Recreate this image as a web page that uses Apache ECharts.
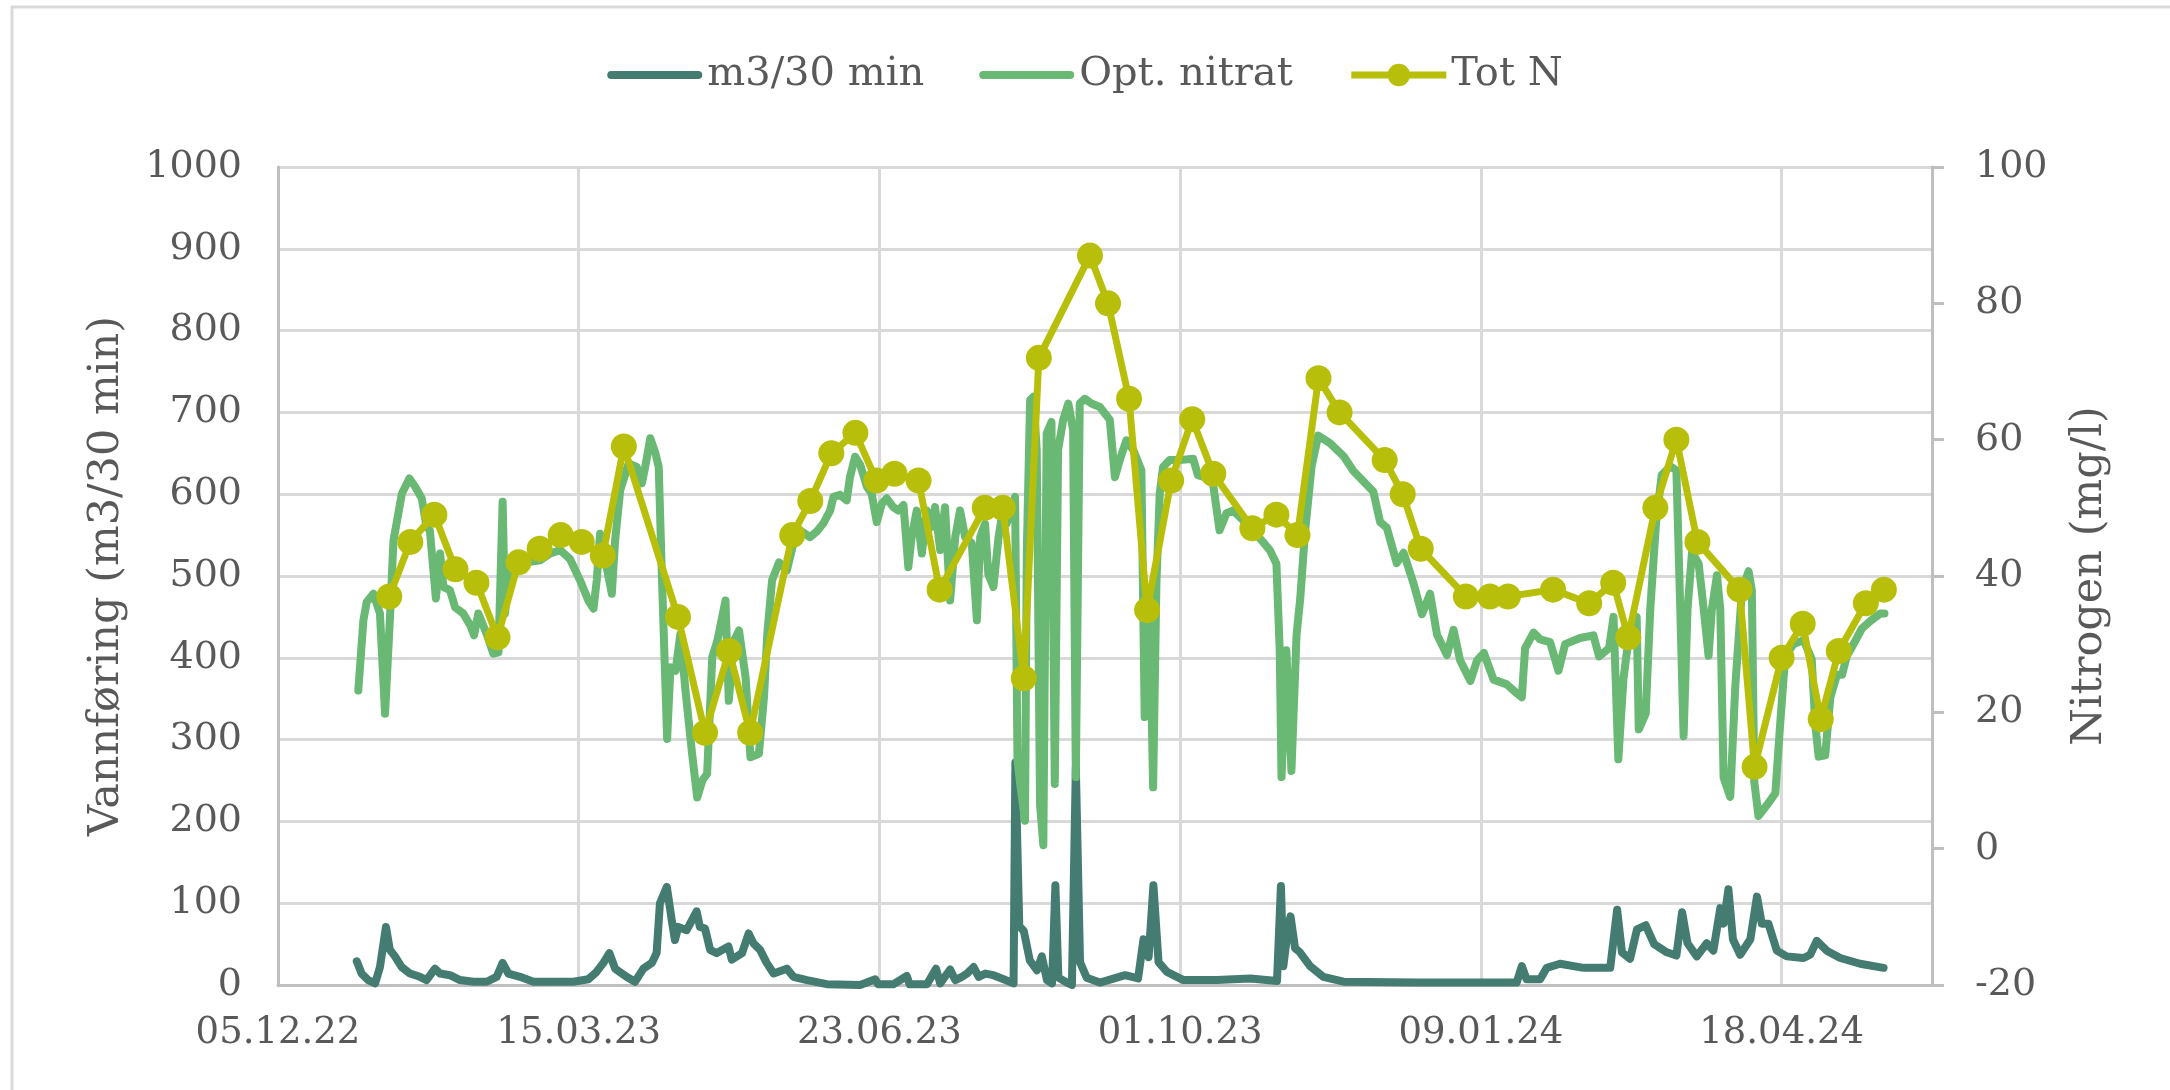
<!DOCTYPE html>
<html>
<head>
<meta charset="utf-8">
<title>Vannføring og nitrogen</title>
<script src="https://cdn.jsdelivr.net/npm/echarts@6/dist/echarts.min.js"></script>
<style>
  html, body { margin: 0; padding: 0; background: #fff; }
  #chart { width: 2170px; height: 1090px; }
</style>
</head>
<body>
<div id="chart"></div>
<script>
// x values are days counted from the axis start 05.12.22
const startDate = Date.UTC(2022, 11, 5)
const dayMs = 86400000

// m3/30 min (left axis)
const flowDay = [
  26.2, 27.8, 30, 32.3, 33.9, 35.9, 37.2, 38.9, 41.1, 43.9,
  47.2, 49.4, 52.2, 53.9, 57.2, 60.5, 65, 69.4, 72.7, 74.7,
  76.6, 80.5, 84.9, 92.7, 98.2, 103.2, 105.9, 108.2, 110.2, 112.1,
  115.9, 118.7, 121.5, 124.3, 125.9, 127, 129.3, 130.9, 132, 133.1,
  135.9, 139.2, 140.3, 142, 143.7, 145.9, 149.8, 150.9, 154.3, 156.5,
  158.1, 160.3, 162.5, 164.8, 169.2, 171.4, 175.9, 182.5, 193.6, 198.6,
  199.5, 204.7, 209.1, 210, 215.8, 218.8, 220.2, 223.5, 225.2, 227.4,
  229.1, 231.3, 233, 235.2, 237.9, 241.3, 244.6, 245.2, 246.5, 248,
  250, 252.4, 254, 255.7, 257.4, 258.5, 259.5, 262.3, 264, 265.3,
  266.7, 268.9, 273.3, 281.7, 286, 287.8, 289.5, 291.1, 292.8, 295.6,
  301.1, 312.2, 323.3, 332.2, 333.5, 334.3, 336, 336.7, 338.2, 339.8,
  343.2, 347.6, 354.3, 378.6, 411.9, 413.6, 415.2, 419.7, 421.9, 426.3,
  434.1, 443, 445.3, 446.9, 449.6, 451.9, 454.8, 457.6, 461.8, 465,
  466.9, 468.7, 471.8, 475.1, 477.3, 479.6, 480.7, 482.3, 483.8, 486.2,
  489.6, 491.8, 493.4, 495.6, 498.4, 501.7, 507.3, 509.5, 511.7, 515,
  519.5, 526.1, 533.9
]
const flowValue = [
  29, 14, 6, 2, 22, 71, 43, 35, 22, 14,
  10, 6, 20, 14, 12, 6, 4, 4, 10, 27,
  14, 10, 4, 4, 4, 7, 16, 27, 39, 20,
  10, 4, 20, 27, 39, 100, 120, 80, 55, 71,
  67, 90, 71, 69, 43, 39, 47, 31, 39, 63,
  51, 43, 27, 14, 20, 10, 6, 1, 0, 7,
  1, 1, 11, 1, 1, 20, 2, 19, 6, 10,
  14, 22, 10, 14, 12, 7, 2, 272, 72, 66,
  30, 18, 35, 6, 2, 122, 9, 3, 0, 266,
  28, 9, 3, 12, 8, 56, 34, 122, 28, 16,
  6, 6, 8, 5, 121, 23, 73, 84, 45, 40,
  23, 10, 4, 3, 3, 23, 7, 7, 21, 26,
  21, 21, 92, 40, 32, 68, 73, 50, 40, 36,
  89, 51, 35, 51, 42, 94, 75, 117, 56, 37,
  56, 108, 75, 75, 42, 35, 33, 37, 54, 42,
  33, 26, 21
]

// Opt. nitrat (right axis, mg/l)
const nitratDay = [
  26.7, 28.4, 29.5, 31.7, 33.9, 35.6, 37.3, 38.4, 41.2, 43.7,
  45.6, 47.8, 49.4, 50.5, 52.5, 53.9, 55, 57.2, 58.9, 61.6,
  63.9, 65.2, 66.6, 69.4, 71.6, 73.3, 74.7, 75.5, 76.6, 78.8,
  81, 83.8, 87.1, 90.5, 93.8, 97.1, 100.4, 103.2, 104.9, 106,
  107.1, 109.3, 111, 112.1, 113.8, 116.6, 119.3, 121, 122.1, 123.8,
  125.5, 126.6, 127.7, 129.4, 130.5, 132.2, 133.8, 135.5, 137.7, 139.4,
  141.1, 142.7, 144.4, 146.1, 148.8, 149.9, 151.6, 153.3, 155.5, 157.1,
  159.9, 161.6, 162.7, 164.3, 166.6, 169.2, 171.4, 173.6, 176.9, 179.1,
  181.3, 183.6, 184.7, 186.9, 189.1, 190.2, 191.9, 193.6, 195.8, 197.4,
  199.1, 200.8, 202.4, 204.6, 206.3, 208, 209.6, 210.7, 212.4, 214.1,
  215.7, 217.4, 218.5, 220.2, 221.8, 223.5, 225.2, 226.8, 228.5, 230.7,
  232.4, 233.5, 235.1, 236.2, 237.9, 239.6, 240.7, 242.3, 244, 245.1,
  245.9, 246.8, 248.4, 249, 250.1, 251.2, 252.3, 253.4, 254.5, 255.6,
  257.2, 258.3, 259.4, 261.1, 262.8, 264.4, 265.3, 266.6, 268.3, 270.5,
  273.3, 276.6, 278.3, 279.9, 282.1, 284.4, 287.1, 288.2, 289.9, 291,
  292.1, 293.2, 294.3, 296.5, 299.8, 304.3, 305.9, 308.1, 310.9, 313.1,
  315.4, 317.6, 320.9, 324.2, 327.5, 329.8, 332, 333.1, 333.7, 335.3,
  337, 338.7, 339.9, 341.5, 343.7, 345.9, 349.8, 354.3, 357.6, 360.9,
  364.2, 366.5, 368.7, 372, 374.3, 377.6, 380.4, 383.1, 385.4, 388.7,
  390.9, 393.1, 396.5, 398.7, 401, 404.2, 408.6, 411.9, 413.6, 414.7,
  417.5, 419.7, 423, 425.8, 428, 433, 437.4, 439.3, 442.6, 444.1,
  445.7, 447.4, 449.6, 451.8, 452.5, 454.8, 456.3, 458.2, 460.1, 463,
  465, 466.3, 467.4, 468.7, 470.2, 472.4, 474.1, 475.7, 476.8, 478.5,
  479.6, 480.7, 482.9, 484.6, 486.8, 489, 490.1, 490.9, 492.3, 495.1,
  497.9, 499.5, 501.2, 504, 507.3, 510, 511.2, 512.3, 514.5, 516.2,
  518.4, 520.1, 521.7, 523.9, 526.7, 529.5, 532.8, 534.2
]
const nitratValue = [
  23.2, 33.5, 36.2, 37.4, 34.5, 19.8, 34.5, 45.2, 52.1, 54.3,
  53.1, 51.4, 47.2, 46.7, 36.7, 43.3, 38.4, 37.9, 35.4, 34.5,
  32.8, 31.3, 34.5, 31.5, 28.6, 28.8, 50.9, 34.5, 40.4, 42.3,
  41.6, 42.1, 42.3, 43.3, 43.8, 42.5, 39.4, 36.4, 35.2, 39.4,
  46.2, 41.3, 37.4, 45.2, 52.6, 56.5, 56, 53.6, 56, 60.2,
  58, 56, 39.4, 16.1, 26.6, 26.1, 31.5, 23.2, 13.9, 7.5,
  10, 11, 28.1, 30.5, 36.4, 21.7, 30.5, 32, 25.1, 13.4,
  13.9, 22.2, 31.5, 39.4, 42, 40.8, 44.8, 46.7, 45.7, 46.5,
  47.7, 49.6, 51.6, 51.9, 51.1, 54.5, 57.5, 56.3, 53.1, 52.1,
  47.9, 50.6, 51.4, 50.1, 49.6, 50.4, 41.3, 45.7, 49.6, 43.3,
  49.6, 47.2, 50.1, 43.8, 50.1, 36.4, 45.7, 49.6, 45.7, 44.8,
  33.5, 45.7, 47.7, 40.3, 38.4, 45.7, 48.7, 47.7, 50.1, 51.6,
  12.9, 9.5, 4.1, 43.8, 65.8, 66.3, 58.5, 6.5, 0.5, 60.9,
  62.6, 9.5, 58.5, 62.9, 65.3, 61.4, 10.5, 65.3, 66, 65.3,
  64.8, 62.9, 54.5, 57, 59.9, 58.5, 55.5, 19.3, 34, 9,
  38.9, 52.1, 56, 57, 57, 57.2, 54.8, 54.5, 53.6, 46.7,
  49.2, 49.6, 48.2, 46.7, 45, 43.8, 41.8, 29.1, 10.5, 29.1,
  11.4, 31.4, 36.6, 46.4, 56.1, 60.6, 59.5, 57.6, 55.4, 53.9,
  52.4, 47.9, 47.1, 41.9, 43.4, 38.9, 34.4, 37.4, 31.4, 28.4,
  32.1, 27.6, 24.6, 27.6, 28.7, 24.8, 24.1, 22.8, 22.2, 29.4,
  31.7, 30.7, 30.3, 26.1, 30, 30.9, 31.3, 28.2, 29.4, 34,
  13.1, 24.9, 32.6, 34, 17.5, 19.8, 35, 47.6, 54.8, 56.1,
  55.5, 35.1, 16.5, 35.1, 43.5, 41.8, 35.1, 28.3, 35.1, 40.1,
  35.1, 10.4, 7.6, 23.9, 37.9, 40.7, 37.9, 9.8, 4.8, 6.4,
  8.1, 18.2, 28.3, 30, 30.6, 27.8, 18.2, 13.5, 13.7, 22.2,
  25.5, 25.5, 28.3, 30, 32.3, 33.4, 34.5, 34.5
]

// Tot N samples (right axis, mg/l)
const totNDates = [
  '2023-01-11', '2023-01-18', '2023-01-26', '2023-02-02', '2023-02-09', '2023-02-16', '2023-02-23', '2023-03-02', '2023-03-09', '2023-03-16',
  '2023-03-23', '2023-03-30', '2023-04-17', '2023-04-26', '2023-05-04', '2023-05-11', '2023-05-25', '2023-05-31', '2023-06-07', '2023-06-15',
  '2023-06-22', '2023-06-28', '2023-07-06', '2023-07-13', '2023-07-28', '2023-08-03', '2023-08-10', '2023-08-15', '2023-09-01', '2023-09-07',
  '2023-09-14', '2023-09-20', '2023-09-28', '2023-10-05', '2023-10-12', '2023-10-25', '2023-11-02', '2023-11-09', '2023-11-16', '2023-11-23',
  '2023-12-08', '2023-12-14', '2023-12-20', '2024-01-04', '2024-01-12', '2024-01-18', '2024-02-02', '2024-02-14', '2024-02-22', '2024-02-27',
  '2024-03-07', '2024-03-14', '2024-03-21', '2024-04-04', '2024-04-09', '2024-04-18', '2024-04-25', '2024-05-01', '2024-05-07', '2024-05-16',
  '2024-05-22'
]
const totNValue = [
  37, 45, 49, 41, 39, 31, 42, 44, 46, 45,
  43, 59, 34, 17, 29, 17, 46, 51, 58, 61,
  54, 55, 54, 38, 50, 50, 25, 72, 87, 80,
  66, 35, 54, 63, 55, 47, 49, 46, 69, 64,
  57, 52, 44, 37, 37, 37, 38, 36, 39, 31,
  50, 60, 45, 38, 12, 28, 33, 19, 29, 36,
  38
]

const axisColor = '#BFBFBF'
const gridColor = '#D9D9D9'
const textColor = '#595959'
const font = 'DejaVu Serif'
// thick rounded bar used as legend icon for the plain line series
const lineIcon = 'path://M4,0 L91,0 A4,4 0 0 1 91,8 L4,8 A4,4 0 0 1 4,0 Z'

function pad(n) {
  return n < 10 ? '0' + n : '' + n
}
function dayLabel(d) {
  let dt = new Date(startDate + d * dayMs)
  return pad(dt.getUTCDate()) + '.' + pad(dt.getUTCMonth() + 1) + '.' + pad(dt.getUTCFullYear() % 100)
}
function toDay(s) {
  return (Date.parse(s) - startDate) / dayMs
}

let myChart = echarts.init(document.getElementById('chart'))
let option = {
  animation: false,
  backgroundColor: '#fff',
  textStyle: { fontFamily: font },
  graphic: [
    {
      type: 'rect',
      shape: { x: 12, y: 7, width: 2300, height: 1200 },
      style: { fill: 'none', stroke: '#D9D9D9', lineWidth: 3 },
      silent: true,
    },
  ],
  legend: {
    top: 50,
    left: 'center',
    itemWidth: 95,
    itemHeight: 28,
    itemGap: 55,
    textStyle: { color: textColor, fontSize: 40, fontFamily: font },
    data: [
      { name: 'm3/30 min', icon: lineIcon },
      { name: 'Opt. nitrat', icon: lineIcon },
      { name: 'Tot N', lineStyle: { width: 7, color: '#B8BF0A' } },
    ],
  },
  grid: {
    left: 278,
    right: 238,
    top: 167,
    bottom: 105,
  },
  xAxis: {
    type: 'value',
    min: 0,
    max: 550,
    interval: 100,
    axisLine: { lineStyle: { color: axisColor, width: 3 } },
    axisTick: { show: false },
    axisLabel: {
      color: textColor,
      fontSize: 37,
      margin: 30,
      showMaxLabel: false,
      formatter: (v) => dayLabel(v),
    },
    splitLine: { show: true, lineStyle: { color: gridColor, width: 3 } },
  },
  yAxis: [
    {
      type: 'value',
      min: 0,
      max: 1000,
      interval: 100,
      name: 'Vannføring (m3/30 min)',
      nameLocation: 'middle',
      nameGap: 150,
      nameTextStyle: { color: textColor, fontSize: 43, fontFamily: font },
      axisLine: { show: true, lineStyle: { color: axisColor, width: 3 } },
      axisTick: { show: false },
      axisLabel: { color: textColor, fontSize: 38, margin: 36, formatter: (v) => String(v) },
      splitLine: { show: true, lineStyle: { color: gridColor, width: 3 } },
    },
    {
      type: 'value',
      min: -20,
      max: 100,
      interval: 20,
      position: 'right',
      name: 'Nitrogen (mg/l)',
      nameLocation: 'middle',
      nameGap: 136,
      nameTextStyle: { color: textColor, fontSize: 43, fontFamily: font },
      axisLine: { show: true, lineStyle: { color: axisColor, width: 3 } },
      axisTick: { show: true, length: 12, lineStyle: { color: axisColor, width: 3 } },
      axisLabel: { color: textColor, fontSize: 38, margin: 43, formatter: (v) => String(v) },
      splitLine: { show: false },
    },
  ],
  series: [
    {
      name: 'm3/30 min',
      type: 'line',
      yAxisIndex: 0,
      symbol: 'none',
      itemStyle: { color: '#457C72' },
      lineStyle: { width: 8, color: '#457C72', cap: 'round', join: 'round' },
      data: flowDay.map((d, i) => [d, flowValue[i]]),
    },
    {
      name: 'Opt. nitrat',
      type: 'line',
      yAxisIndex: 1,
      symbol: 'none',
      itemStyle: { color: '#69B874' },
      lineStyle: { width: 8, color: '#69B874', cap: 'round', join: 'round' },
      data: nitratDay.map((d, i) => [d, nitratValue[i]]),
    },
    {
      name: 'Tot N',
      type: 'line',
      yAxisIndex: 1,
      symbol: 'circle',
      symbolSize: 26,
      itemStyle: { color: '#B8BF0A' },
      lineStyle: { width: 7, color: '#B8BF0A' },
      data: totNDates.map((s, i) => [toDay(s), totNValue[i]]),
    },
  ],
}
myChart.setOption(option, true)
</script>
</body>
</html>
